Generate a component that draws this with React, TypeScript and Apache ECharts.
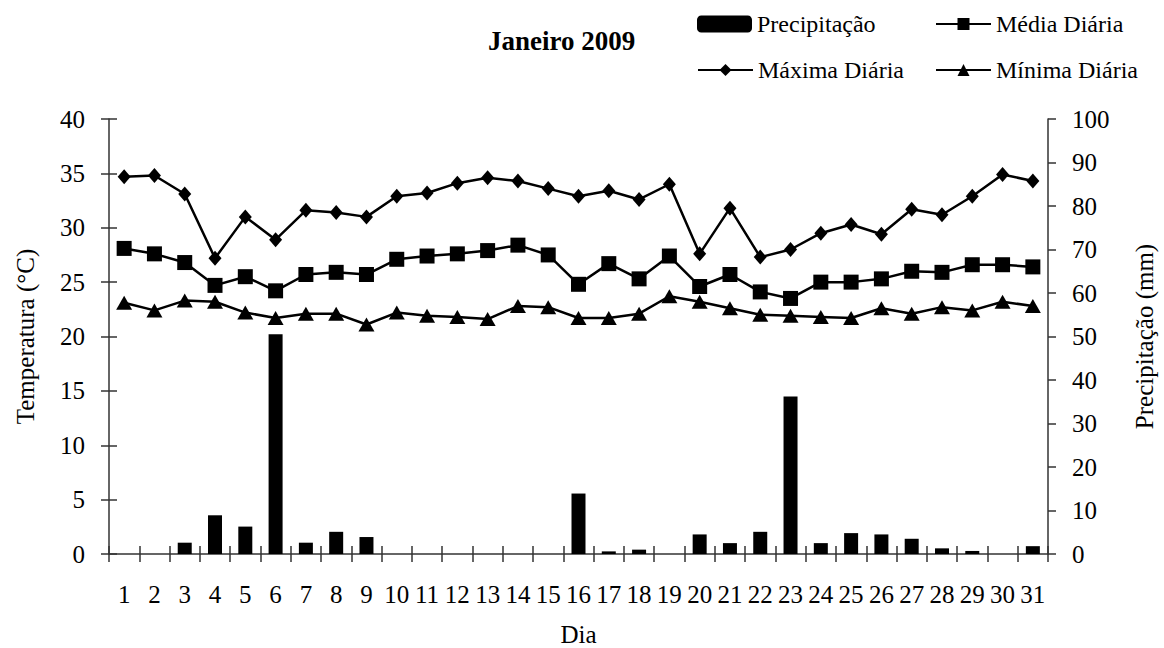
import React, { useEffect, useRef } from "react";
import * as echarts from "echarts";

const days = Array.from({ length: 31 }, (_, i) => String(i + 1));
const precipitacao = [0, 0, 2.6, 8.9, 6.3, 50.5, 2.6, 5.1, 3.9, 0, 0, 0, 0, 0, 0, 13.9, 0.6, 1.0, 0, 4.5, 2.5, 5.1, 36.2, 2.5, 4.8, 4.5, 3.5, 1.3, 0.7, 0, 1.8];
const media = [28.1, 27.6, 26.8, 24.7, 25.5, 24.2, 25.7, 25.9, 25.7, 27.1, 27.4, 27.6, 27.9, 28.4, 27.5, 24.8, 26.7, 25.3, 27.4, 24.6, 25.7, 24.1, 23.5, 25.0, 25.0, 25.3, 26.0, 25.9, 26.6, 26.6, 26.4];
const maxima = [34.7, 34.8, 33.1, 27.2, 31.0, 28.9, 31.6, 31.4, 31.0, 32.9, 33.2, 34.1, 34.6, 34.3, 33.6, 32.9, 33.4, 32.6, 34.0, 27.6, 31.8, 27.3, 28.0, 29.5, 30.3, 29.4, 31.7, 31.2, 32.9, 34.9, 34.3];
const minima = [23.1, 22.4, 23.3, 23.2, 22.2, 21.7, 22.1, 22.1, 21.1, 22.2, 21.9, 21.8, 21.6, 22.8, 22.7, 21.7, 21.7, 22.1, 23.7, 23.2, 22.6, 22.0, 21.9, 21.8, 21.7, 22.6, 22.1, 22.7, 22.4, 23.2, 22.8];

const FONT = "Liberation Serif";
const AX = "#333";

export default function App() {
  const ref = useRef<HTMLDivElement>(null);
  useEffect(() => {
    const chart = echarts.init(ref.current!, null, { renderer: "svg" });
    const legendText = { fontFamily: FONT, fontSize: 24, color: "#000" };
    const legendBase = {
      itemWidth: 55,
      itemHeight: 15,
      itemGap: 4,
      padding: 0,
      textStyle: legendText,
      selectedMode: false,
    };
    const tickStyle = { color: AX, width: 1.5 };
    chart.setOption({
      animation: false,
      backgroundColor: "#fff",
      title: {
        text: "Janeiro 2009",
        left: 488,
        top: 27,
        padding: 0,
        textStyle: { fontFamily: FONT, fontSize: 27, fontWeight: "bold", color: "#000" },
      },
      legend: [
        { ...legendBase, data: ["Precipitação"], left: 697, top: 12, itemHeight: 17 },
        { ...legendBase, data: ["Média Diária"], left: 935, top: 12 },
        { ...legendBase, data: ["Máxima Diária"], left: 697, top: 58 },
        { ...legendBase, data: ["Mínima Diária"], left: 935, top: 58 },
      ],
      grid: { left: 109, right: 116, top: 119, bottom: 94, outerBoundsMode: "none", containLabel: false },
      xAxis: [
        {
          type: "category",
          data: days,
          boundaryGap: true,
          axisLine: { lineStyle: { color: AX, width: 1.5 } },
          axisTick: { show: true, length: 8, lineStyle: tickStyle },
          axisLabel: { fontFamily: FONT, fontSize: 25, color: "#000", margin: 28, interval: 0 },
          name: "Dia",
          nameLocation: "middle",
          nameGap: 68,
          nameTextStyle: { fontFamily: FONT, fontSize: 25, color: "#000" },
        },
        {
          type: "category",
          data: days,
          boundaryGap: true,
          position: "bottom",
          axisLine: { show: false },
          axisTick: { show: true, inside: true, length: 8, lineStyle: tickStyle },
          axisLabel: { show: false },
        },
      ],
      yAxis: [
        {
          type: "value",
          position: "left",
          min: 0,
          max: 40,
          interval: 5,
          splitLine: { show: false },
          axisLine: { show: true, lineStyle: { color: AX, width: 1.5 } },
          axisTick: { show: true, length: 8, lineStyle: tickStyle },
          axisLabel: { fontFamily: FONT, fontSize: 25, color: "#000", margin: 24 },
          name: "Temperatura (°C)",
          nameLocation: "middle",
          nameGap: 71,
          nameTextStyle: { fontFamily: FONT, fontSize: 25, color: "#000" },
        },
        {
          type: "value",
          position: "right",
          min: 0,
          max: 100,
          interval: 10,
          splitLine: { show: false },
          axisLine: { show: true, lineStyle: { color: AX, width: 1.5 } },
          axisTick: { show: true, length: 8, lineStyle: tickStyle },
          axisLabel: { fontFamily: FONT, fontSize: 25, color: "#000", margin: 24 },
          name: "Precipitação (mm)",
          nameLocation: "middle",
          nameGap: 84,
          nameRotate: 90,
          nameTextStyle: { fontFamily: FONT, fontSize: 25, color: "#000" },
        },
        {
          type: "value",
          position: "left",
          min: 0,
          max: 40,
          interval: 5,
          splitLine: { show: false },
          axisLine: { show: false },
          axisTick: { show: true, inside: true, length: 8, lineStyle: tickStyle },
          axisLabel: { show: false },
        },
      ],
      series: [
        {
          name: "Precipitação",
          type: "bar",
          yAxisIndex: 1,
          data: precipitacao,
          barWidth: 14,
          itemStyle: { color: "#000" },
        },
        {
          name: "Média Diária",
          type: "line",
          yAxisIndex: 0,
          data: media,
          symbol: "rect",
          symbolSize: 15,
          lineStyle: { color: "#000", width: 2.5 },
          itemStyle: { color: "#000" },
        },
        {
          name: "Máxima Diária",
          type: "line",
          yAxisIndex: 0,
          data: maxima,
          symbol: "diamond",
          symbolSize: [13, 15],
          lineStyle: { color: "#000", width: 2.5 },
          itemStyle: { color: "#000" },
        },
        {
          name: "Mínima Diária",
          type: "line",
          yAxisIndex: 0,
          data: minima,
          symbol: "triangle",
          symbolSize: [16, 14],
          lineStyle: { color: "#000", width: 2.5 },
          itemStyle: { color: "#000" },
        },
      ],
    });
    return () => chart.dispose();
  }, []);
  return (
    <div
      ref={ref}
      style={{ position: "fixed", left: 0, top: 0, width: 1164, height: 648 }}
    />
  );
}
